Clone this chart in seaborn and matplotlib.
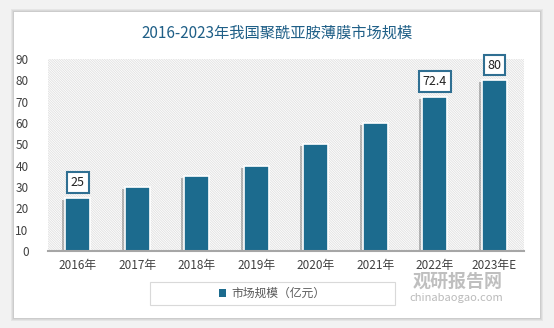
import matplotlib
matplotlib.use("Agg")
import matplotlib.pyplot as plt
import matplotlib.patheffects as pe
from matplotlib.patches import Rectangle, FancyBboxPatch, Patch
import seaborn as sns
import pandas as pd

years = ["2016年", "2017年", "2018年", "2019年", "2020年", "2021年", "2022年", "2023年E"]
market_size = [25, 30, 35, 40, 50, 60, 72.4, 80]
labelled_years = ["2016年", "2022年", "2023年E"]
y_ticks = [0, 10, 20, 30, 40, 50, 60, 70, 80, 90]

title = "2016-2023年我国聚酰亚胺薄膜市场规模"
series_name = "市场规模（亿元）"

BAR = "#1c6b8e"
TITLE_C = "#1f5f87"
TEXT_C = "#404040"

sns.set_theme(style="white")
plt.rcParams["font.family"] = ["Noto Sans CJK SC", "DejaVu Sans"]
plt.rcParams["hatch.linewidth"] = 0.6

W, H = 554, 328
fig = plt.figure(figsize=(W / 100, H / 100), dpi=100)
fig.patch.set_facecolor("#f2f2f2")

def fx(px):
    return px / W

def fy(py):
    return 1 - py / H

# white card with a soft shadow
for i, a in enumerate([0.05, 0.05, 0.06]):
    d = 3 - i
    fig.patches.append(FancyBboxPatch((fx(14 - d), fy(318 + d)), fx(526 + 2 * d), (306 + 2 * d) / H,
                                      boxstyle="square,pad=0", transform=fig.transFigure,
                                      facecolor="#000000", alpha=a, edgecolor="none", zorder=0))
fig.patches.append(Rectangle((fx(14), fy(318)), fx(526), 306 / H, transform=fig.transFigure,
                             facecolor="white", edgecolor="none", zorder=0))

ax = fig.add_axes([fx(48), fy(251), fx(524 - 48), (251 - 59) / H])
ax.set_facecolor("none")
ax.set_zorder(1)

df = pd.DataFrame({"year": years, "size": market_size})

# hatched plot background
ax.add_patch(Rectangle((0, 0), 1, 1, transform=ax.transAxes, facecolor="white",
                       edgecolor="#e0e0e0", hatch="\\" * 14, linewidth=0, zorder=0))

sns.barplot(data=df, x="year", y="size", color=BAR, width=0.42, saturation=1,
            edgecolor="white", linewidth=1.2, ax=ax, zorder=2)

for bar in ax.patches[1:]:
    bar.set_path_effects([pe.SimplePatchShadow(offset=(-2, -1.5), shadow_rgbFace="#000000", alpha=0.25),
                          pe.Normal()])

ax.set_ylim(0, 90)
ax.set_xlim(-0.5, len(years) - 0.5)
ax.set_yticks(y_ticks)
ax.set_xlabel("")
ax.set_ylabel("")
ax.tick_params(axis="both", length=0, labelsize=8.5, colors=TEXT_C)
ax.tick_params(axis="y", pad=14)
ax.tick_params(axis="x", pad=6)
for s in ["top", "right", "left"]:
    ax.spines[s].set_visible(False)
ax.spines["bottom"].set_color("#a6a6a6")
ax.spines["bottom"].set_linewidth(1.5)

for i, (yr, v) in enumerate(zip(years, market_size)):
    if yr in labelled_years:
        ax.annotate(f"{v:g}", (i, v), xytext=(0, 11), textcoords="offset points",
                    ha="center", va="center", fontsize=9, color="#222222", zorder=5,
                    bbox=dict(boxstyle="square,pad=0.3", facecolor="white",
                              edgecolor="#2f6f92", linewidth=1.5))

fig.text(0.5, fy(33), title, ha="center", va="center", fontsize=11, color=TITLE_C)

# legend
fig.patches.append(Rectangle((fx(150), fy(305)), fx(245), 23 / H, transform=fig.transFigure,
                             facecolor="white", edgecolor="#d9d9d9", linewidth=0.8, zorder=1))
fig.legend(handles=[Patch(facecolor=BAR, edgecolor="none", label=series_name)],
           loc="center", bbox_to_anchor=(fx(272), fy(293.5)), frameon=False,
           fontsize=8.5, handlelength=0.6, handleheight=0.6, handletextpad=0.5,
           labelcolor="#595959")

# watermark
fig.text(fx(458), fy(281), "观研报告网", ha="center", va="center", fontsize=13,
         fontweight="bold", color="#8c8c8c", alpha=0.55, zorder=10)
fig.text(fx(456), fy(298), "chinabaogao.com", ha="center", va="center", fontsize=8,
         color="#8c8c8c", alpha=0.6, zorder=10)

fig.savefig("out.png", dpi=100, facecolor=fig.get_facecolor())
